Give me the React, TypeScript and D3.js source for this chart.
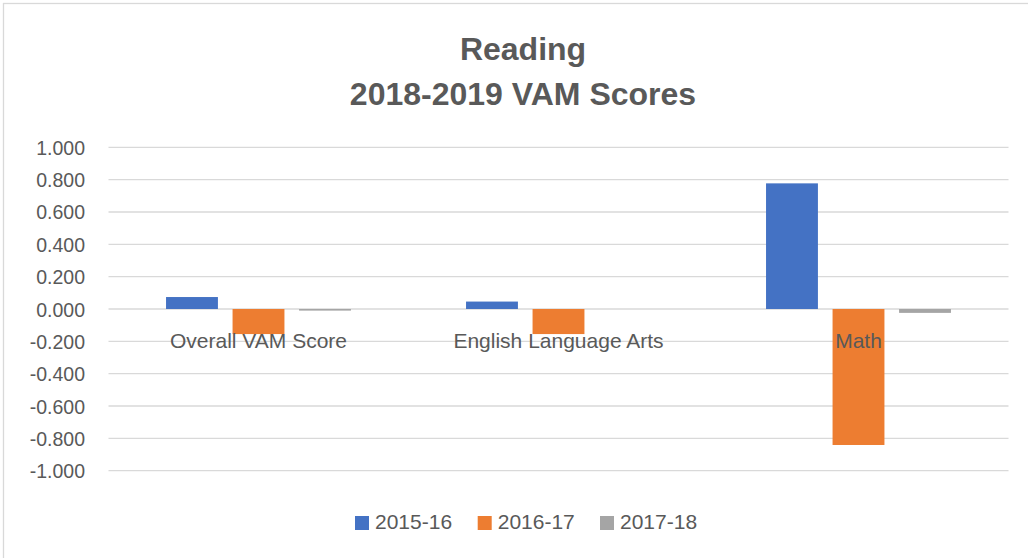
import React, { useRef, useEffect } from "react";
import { select, scaleLinear, scaleBand, range } from "d3";

// chart data
const categories = ["Overall VAM Score", "English Language Arts", "Math"];
const seriesNames = ["2015-16", "2016-17", "2017-18"];
const values2015 = [0.074, 0.046, 0.777];
const values2016 = [-0.155, -0.155, -0.841];
const values2017 = [-0.01, 0, -0.024];
const yTicks = [1, 0.8, 0.6, 0.4, 0.2, 0, -0.2, -0.4, -0.6, -0.8, -1];
const titleLines = ["Reading", "2018-2019 VAM Scores"];

const colors = ["#4472C4", "#ED7D31", "#A5A5A5"];
const textColor = "#595959";
const gridColor = "#D9D9D9";
const font = "'Liberation Sans', Arial, sans-serif";

function App() {
    const svgRef = useRef(null);

    useEffect(() => {
        const svg = select(svgRef.current);
        svg.selectAll("*").remove();

        const series = [values2015, values2016, values2017];

        const xScale = scaleBand().domain(categories).range([108.5, 1008.5]).padding(0);
        const inner = scaleBand()
            .domain(range(series.length))
            .range([0, xScale.bandwidth()])
            .paddingInner(0.22)
            .paddingOuter(0.865);
        const yScale = scaleLinear().domain([-1, 1]).range([470.7, 147.3]);

        // chart border
        svg.append("rect")
            .attr("x", 3.5).attr("y", 3.5)
            .attr("width", 1030).attr("height", 560)
            .attr("fill", "white")
            .attr("stroke", gridColor)
            .attr("stroke-width", 1.3);

        // title
        svg.append("g").selectAll("text")
            .data(titleLines)
            .join("text")
            .attr("x", 523)
            .attr("y", (d, i) => 60 + i * 45)
            .attr("text-anchor", "middle")
            .attr("font-family", font)
            .attr("font-weight", "bold")
            .attr("font-size", 32)
            .attr("fill", textColor)
            .text(d => d);

        // gridlines
        svg.append("g").selectAll("line")
            .data(yTicks)
            .join("line")
            .attr("x1", xScale.range()[0])
            .attr("x2", xScale.range()[1])
            .attr("y1", d => yScale(d))
            .attr("y2", d => yScale(d))
            .attr("stroke", gridColor)
            .attr("stroke-width", 1.3);

        // y tick labels
        svg.append("g").selectAll("text")
            .data(yTicks)
            .join("text")
            .attr("x", 85)
            .attr("y", d => yScale(d) + 7.5)
            .attr("text-anchor", "end")
            .attr("font-family", font)
            .attr("font-size", 19.5)
            .attr("fill", textColor)
            .text(d => d.toFixed(3));

        // bars
        series.forEach((vals, si) => {
            svg.append("g").selectAll("rect")
                .data(vals)
                .join("rect")
                .attr("x", (d, i) => xScale(categories[i]) + inner(si))
                .attr("width", inner.bandwidth())
                .attr("y", d => yScale(Math.max(0, d)))
                .attr("height", d => Math.abs(yScale(d) - yScale(0)))
                .attr("fill", colors[si]);
        });

        // category labels (drawn over bars, like excel)
        svg.append("g").selectAll("text")
            .data(categories)
            .join("text")
            .attr("x", d => xScale(d) + xScale.bandwidth() / 2)
            .attr("y", 348.3)
            .attr("text-anchor", "middle")
            .attr("font-family", font)
            .attr("font-size", 21)
            .attr("fill", textColor)
            .text(d => d);

        // legend
        const legendX = [355, 477.7, 600];
        const legend = svg.append("g").selectAll("g")
            .data(seriesNames)
            .join("g")
            .attr("transform", (d, i) => `translate(${legendX[i]},516)`);
        legend.append("rect")
            .attr("width", 14).attr("height", 14)
            .attr("fill", (d, i) => colors[i]);
        legend.append("text")
            .attr("x", 20).attr("y", 13.3)
            .attr("font-family", font)
            .attr("font-size", 21)
            .attr("fill", textColor)
            .text(d => d);
    }, []);

    return (
        <svg
            ref={svgRef}
            width={1028}
            height={558}
            style={{ position: "absolute", left: 0, top: 0, background: "white" }}
        />
    );
}

export default App;
